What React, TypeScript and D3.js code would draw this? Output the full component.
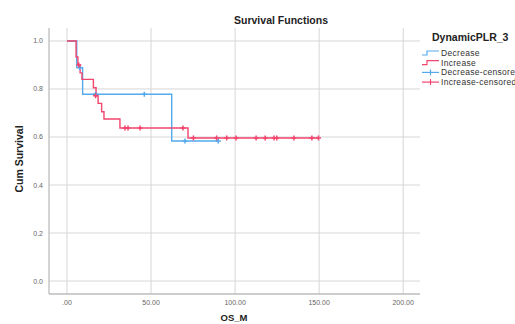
import { useEffect, useRef } from "react";
import * as d3 from "d3";

// Kaplan-Meier steps
const DEC_TIMES = [0, 5.8, 9.3, 62.3];
const DEC_SURV = [1, 0.889, 0.778, 0.583];
const DEC_END = 90;
const DEC_CENSOR_T = [7.5, 17, 46, 70.2, 90];
const DEC_CENSOR_S = [0.889, 0.778, 0.778, 0.583, 0.583];

const INC_TIMES = [0, 5.4, 6.5, 7.8, 8.9, 15.7, 17.3, 18.5, 20.6, 22, 31.5, 72];
const INC_SURV = [1, 0.933, 0.9, 0.867, 0.84, 0.805, 0.772, 0.74, 0.705, 0.675, 0.6375, 0.596];
const INC_END = 149.6;
const INC_CENSOR_T = [7, 17, 34.5, 36.3, 43.5, 69, 75.2, 89, 95, 100.6, 112.5, 117.9, 123.2, 124.8, 135, 145.7, 149.6];
const INC_CENSOR_S = [0.9, 0.772, 0.6375, 0.6375, 0.6375, 0.6375, 0.596, 0.596, 0.596, 0.596, 0.596, 0.596, 0.596, 0.596, 0.596, 0.596, 0.596];

const X_TICKS = [0, 50, 100, 150, 200];
const X_LABELS = [".00", "50.00", "100.00", "150.00", "200.00"];
const Y_TICKS = [0, 0.2, 0.4, 0.6, 0.8, 1.0];

const LEGEND_LABELS = ["Decrease", "Increase", "Decrease-censored", "Increase-censored"];

const BLUE = "#55aaec";
const RED = "#f2466e";
const FONT = "'Liberation Sans', Arial, sans-serif";

export default function App() {
  const svgRef = useRef<SVGSVGElement>(null);

  useEffect(() => {
    if (!svgRef.current) return;
    const svg = d3.select(svgRef.current);
    svg.selectAll("*").remove();

    const x = d3.scaleLinear().domain([-10.7, 210]).range([49, 420]);
    const y = d3.scaleLinear().domain([-0.054, 1.054]).range([294, 28]);

    svg.append("rect").attr("width", 515).attr("height", 324).attr("fill", "#fff");

    // grid
    const grid = svg.append("g").attr("stroke", "#d6d6d6").attr("stroke-width", 1);
    X_TICKS.forEach((t) => {
      grid.append("line").attr("x1", x(t)).attr("x2", x(t)).attr("y1", 28).attr("y2", 294);
    });
    Y_TICKS.forEach((t) => {
      grid.append("line").attr("x1", 49).attr("x2", 420).attr("y1", y(t)).attr("y2", y(t));
    });

    // axes lines
    svg.append("line").attr("x1", 49).attr("x2", 49).attr("y1", 28).attr("y2", 294)
      .attr("stroke", "#bdbdbd").attr("stroke-width", 1.3);
    svg.append("line").attr("x1", 49).attr("x2", 420).attr("y1", 294).attr("y2", 294)
      .attr("stroke", "#bdbdbd").attr("stroke-width", 1.3);

    // tick labels
    X_TICKS.forEach((t, i) => {
      svg.append("text").attr("x", x(t)).attr("y", 305).attr("text-anchor", "middle")
        .attr("font-family", FONT).attr("font-size", 7).attr("fill", "#666").text(X_LABELS[i]);
    });
    Y_TICKS.forEach((t) => {
      svg.append("text").attr("x", 43).attr("y", y(t) + 2.5).attr("text-anchor", "end")
        .attr("font-family", FONT).attr("font-size", 7).attr("fill", "#666").text(t.toFixed(1));
    });

    // titles
    svg.append("text").attr("x", 281).attr("y", 24).attr("text-anchor", "middle")
      .attr("font-family", FONT).attr("font-size", 10.5).attr("font-weight", "bold").attr("fill", "#222")
      .text("Survival Functions");
    svg.append("text").attr("transform", `translate(23,159) rotate(-90)`).attr("text-anchor", "middle")
      .attr("font-family", FONT).attr("font-size", 10.5).attr("font-weight", "bold").attr("fill", "#222")
      .text("Cum Survival");
    svg.append("text").attr("x", 234).attr("y", 320.5).attr("text-anchor", "middle")
      .attr("font-family", FONT).attr("font-size", 9.5).attr("font-weight", "bold").attr("fill", "#222")
      .text("OS_M");

    const line = d3.line<[number, number]>()
      .x((d) => x(d[0]))
      .y((d) => y(d[1]))
      .curve(d3.curveStepAfter);

    const drawCurve = (times: number[], surv: number[], end: number, color: string) => {
      const pts: [number, number][] = times.map((t, i) => [t, surv[i]]);
      pts.push([end, surv[surv.length - 1]]);
      svg.append("path").attr("d", line(pts)).attr("fill", "none")
        .attr("stroke", color).attr("stroke-width", 1.4);
    };

    const drawCensor = (ts: number[], ss: number[], color: string) => {
      const g = svg.append("g").attr("stroke", color).attr("stroke-width", 1.5);
      ts.forEach((t, i) => {
        const cx = x(t);
        const cy = y(ss[i]);
        g.append("line").attr("x1", cx - 2.5).attr("x2", cx + 2.5).attr("y1", cy).attr("y2", cy);
        g.append("line").attr("x1", cx).attr("x2", cx).attr("y1", cy - 2.5).attr("y2", cy + 2.5);
      });
    };

    drawCurve(DEC_TIMES, DEC_SURV, DEC_END, BLUE);
    drawCurve(INC_TIMES, INC_SURV, INC_END, RED);
    drawCensor(DEC_CENSOR_T, DEC_CENSOR_S, BLUE);
    drawCensor(INC_CENSOR_T, INC_CENSOR_S, RED);

    // legend
    const lg = svg.append("g");
    lg.append("text").attr("x", 432).attr("y", 41).attr("font-family", FONT).attr("font-size", 10.5)
      .attr("font-weight", "bold").attr("fill", "#222").text("DynamicPLR_3");
    const colors = [BLUE, RED, BLUE, RED];
    LEGEND_LABELS.forEach((label, i) => {
      const cy = 53 + i * 9.7;
      if (i < 2) {
        lg.append("path")
          .attr("d", `M422,${cy + 2}H427V${cy - 2}H439`)
          .attr("fill", "none").attr("stroke", colors[i]).attr("stroke-width", 1.2);
      } else {
        lg.append("line").attr("x1", 422).attr("x2", 439).attr("y1", cy).attr("y2", cy)
          .attr("stroke", colors[i]).attr("stroke-width", 1.2);
        lg.append("line").attr("x1", 430.5).attr("x2", 430.5).attr("y1", cy - 3).attr("y2", cy + 3)
          .attr("stroke", colors[i]).attr("stroke-width", 1.2);
      }
      lg.append("text").attr("x", 441).attr("y", cy + 3).attr("font-family", FONT).attr("font-size", 8.5)
        .attr("letter-spacing", 0.3).attr("fill", "#333").text(label);
    });
  }, []);

  return (
    <svg
      ref={svgRef}
      width={515}
      height={324}
      style={{ position: "absolute", left: 0, top: 0 }}
    />
  );
}
